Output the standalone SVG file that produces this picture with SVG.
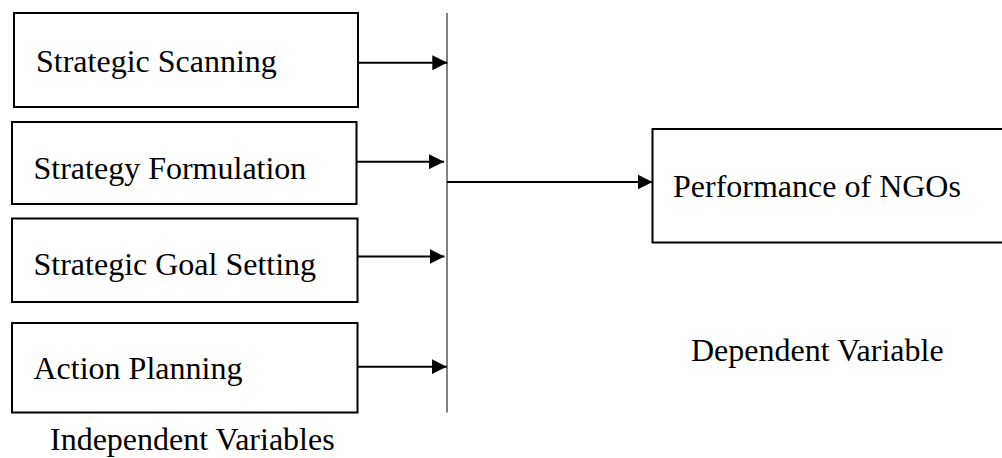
<svg xmlns="http://www.w3.org/2000/svg" width="1002" height="458" viewBox="0 0 1002 458">
<style>
.box{fill:#fff;stroke:#000;stroke-width:2}
.lbl{font-family:"Liberation Serif","Times New Roman",serif;font-size:32px;fill:#000}
.con{stroke:#000;stroke-width:2;fill:none}
.bar{stroke:#595959;stroke-width:1.5;fill:none}
</style>
<defs>
<marker id="ah" markerUnits="userSpaceOnUse" markerWidth="15" markerHeight="15" refX="15" refY="7.5" orient="auto">
<path d="M0,0 L15,7.5 L0,15 z" fill="#000"/>
</marker>
</defs>
<g id="n1"><rect class="box" x="14" y="13" width="344" height="94"/><text class="lbl" x="36" y="71.5">Strategic Scanning</text></g>
<g id="n2"><rect class="box" x="12" y="122" width="344.5" height="82"/><text class="lbl" x="33.5" y="178.5">Strategy Formulation</text></g>
<g id="n3"><rect class="box" x="12" y="218.5" width="345.5" height="83.5"/><text class="lbl" x="33.5" y="275">Strategic Goal Setting</text></g>
<g id="n4"><rect class="box" x="12" y="323" width="345.5" height="89.5"/><text class="lbl" x="33.5" y="378.5">Action Planning</text></g>
<g id="n5"><rect class="box" x="652.5" y="129" width="360" height="113.5"/><text class="lbl" x="673" y="196.5">Performance of NGOs</text></g>
<g id="t1"><text class="lbl" x="50" y="450">Independent Variables</text></g>
<g id="t2"><text class="lbl" x="691" y="360.5">Dependent Variable</text></g>
<g id="connectors">
<line class="bar" x1="447" y1="13" x2="447" y2="412.5"/>
<line class="con" x1="358" y1="62.7" x2="447.3" y2="62.7" marker-end="url(#ah)"/>
<line class="con" x1="356.5" y1="161.7" x2="444" y2="161.7" marker-end="url(#ah)"/>
<line class="con" x1="357.5" y1="256.5" x2="444.5" y2="256.5" marker-end="url(#ah)"/>
<line class="con" x1="357.5" y1="366.7" x2="446.7" y2="366.7" marker-end="url(#ah)"/>
<line class="con" x1="447" y1="182" x2="652.5" y2="182" marker-end="url(#ah)"/>
</g>
</svg>
